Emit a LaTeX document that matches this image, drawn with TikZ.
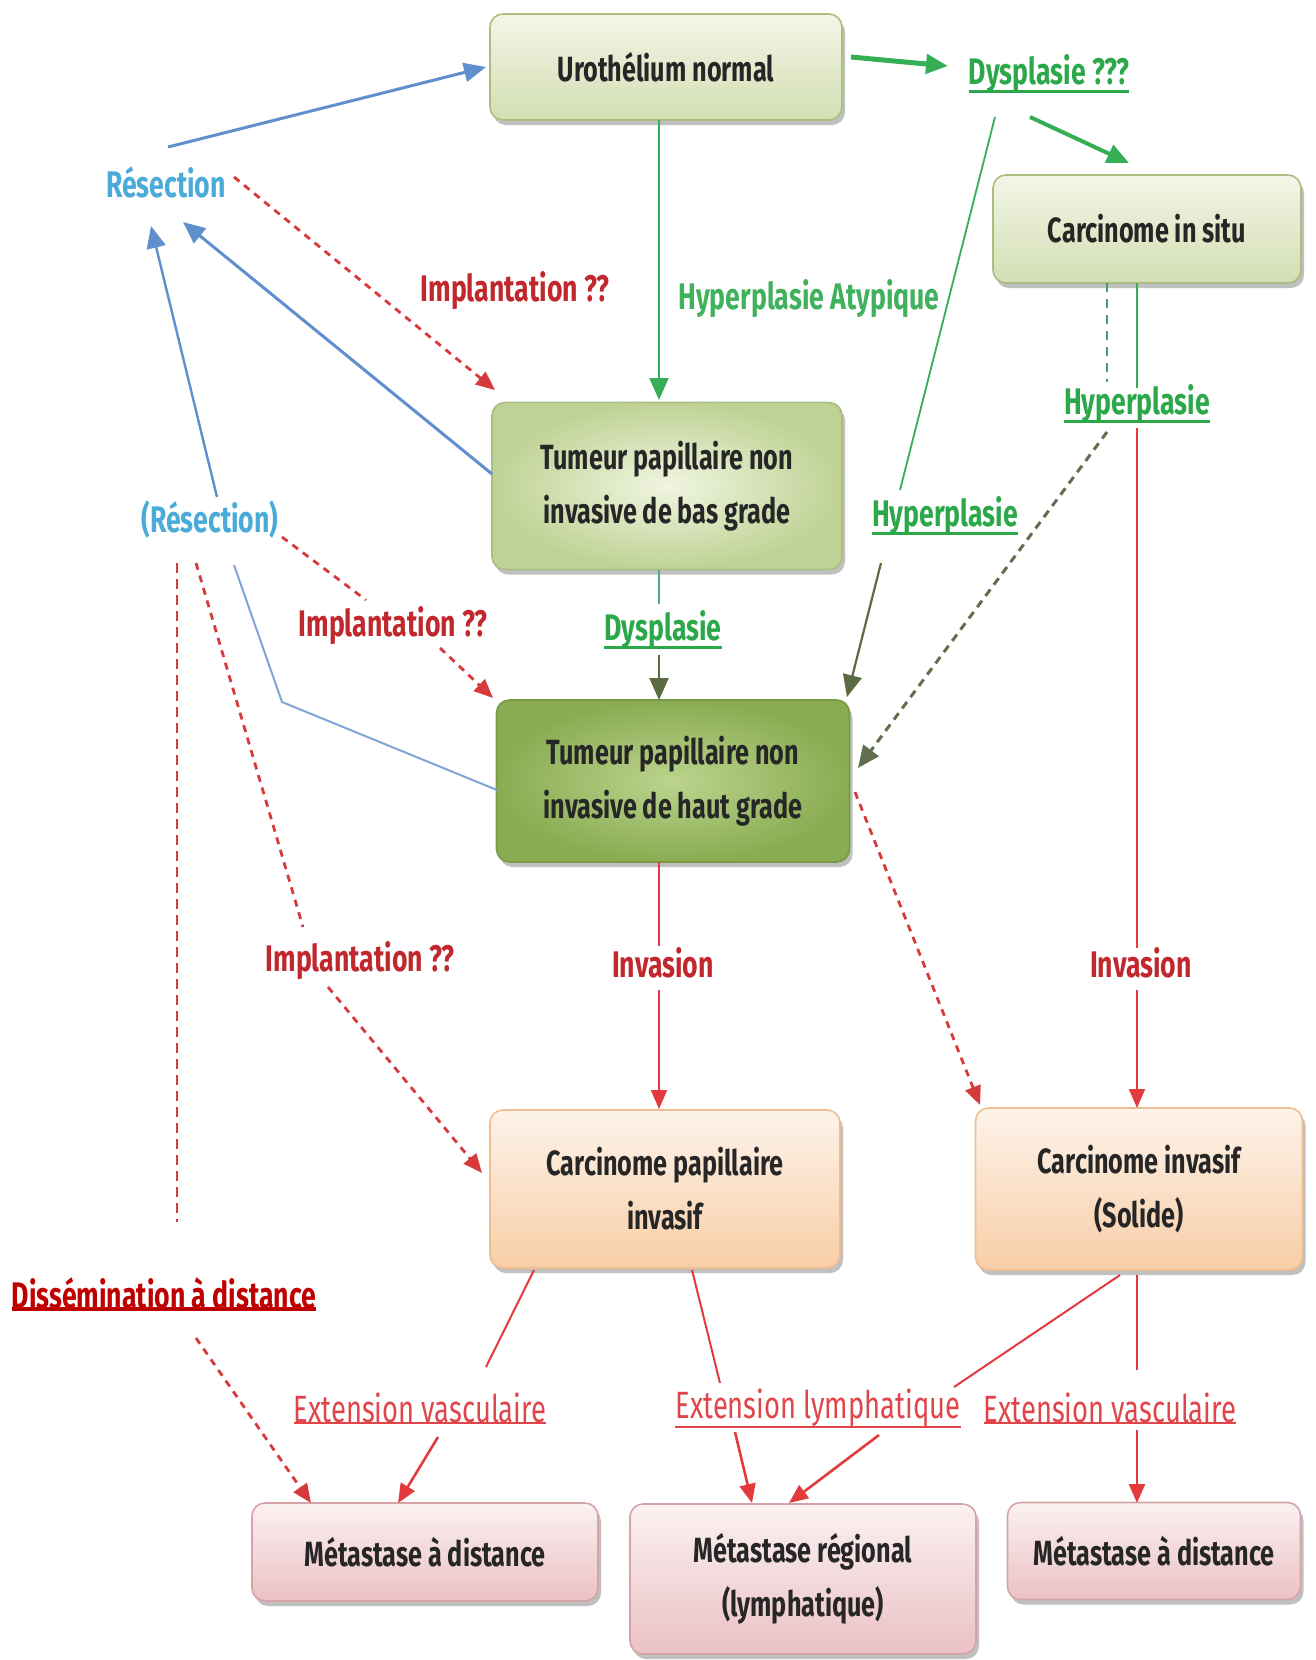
\documentclass[tikz,border=0pt]{standalone}
\usepackage{fontspec}
\setmainfont[FakeStretch=0.72]{Fira Sans}
\usetikzlibrary{calc,arrows.meta,shadows}
\definecolor{cGreenTxt}{HTML}{2BA84A}
\definecolor{cGreenArr}{HTML}{35AE55}
\definecolor{cOlive}{HTML}{5B6B42}
\definecolor{cTeal}{HTML}{4FA886}
\definecolor{cBlueTxt}{HTML}{4AAAD8}
\definecolor{cBlueArr}{HTML}{5F8FCD}
\definecolor{cRedTxt}{HTML}{C0282E}
\definecolor{cRedLight}{HTML}{E0454A}
\definecolor{cRedArr}{HTML}{E33A3E}
\definecolor{cRedDash}{HTML}{D63A3C}
\definecolor{gTop}{HTML}{F3F6E8}
\definecolor{gBot}{HTML}{D3DEB2}
\definecolor{gBrd}{HTML}{ABBE82}
\definecolor{bIn}{HTML}{F0F5E0}
\definecolor{bOut}{HTML}{BFD295}
\definecolor{hIn}{HTML}{BCD48E}
\definecolor{hOut}{HTML}{89AC52}
\definecolor{hBrd}{HTML}{779A44}
\definecolor{oTop}{HTML}{FDF3EA}
\definecolor{oBot}{HTML}{F8CEA7}
\definecolor{oBrd}{HTML}{EFBE90}
\definecolor{pTop}{HTML}{FBF1F2}
\definecolor{pBot}{HTML}{EBC1C4}
\definecolor{pBrd}{HTML}{D6A4A8}
\begin{document}
\begin{tikzpicture}[x=1pt,y=-1pt,
  every node/.style={font=\fontsize{35}{54}\selectfont\bfseries},
  box/.style={rounded corners=13pt, line width=1.6pt, align=center, inner sep=0pt,
    text=black!85, drop shadow={shadow xshift=3pt, shadow yshift=-5pt, opacity=0.45, fill=black!55}},
  gbox/.style={box, draw=gBrd, top color=gTop, bottom color=gBot},
  gbox2/.style={box, draw=gBrd, inner color=bIn, outer color=bOut},
  hbox/.style={box, draw=hBrd, inner color=hIn, outer color=hOut},
  obox/.style={box, draw=oBrd, top color=oTop, bottom color=oBot},
  pbox/.style={box, draw=pBrd, top color=pTop, bottom color=pBot},
  lab/.style={inner sep=0pt, font=\fontsize{37}{54}\selectfont\bfseries},
  elab/.style={inner sep=0pt, text=cRedLight, font=\fontsize{38}{54}\selectfont\mdseries},
  tip/.style={-{Triangle[length=22pt,width=19pt]}},
  stip/.style={-{Triangle[length=19pt,width=16pt]}},
  blue/.style={draw=cBlueArr, line width=3pt},
  bthin/.style={draw=cBlueArr!80, line width=2pt},
  rdash/.style={draw=cRedDash, line width=2.8pt, dash pattern=on 7pt off 6pt},
  rline/.style={draw=cRedArr, line width=2pt},
]
\useasboundingbox (0,0) rectangle (1315,1660);

% boxes
\node[gbox, minimum width=352pt, minimum height=106pt] (uro) at (666,67) {Urothélium normal};
\node[gbox, minimum width=308pt, minimum height=108pt] (cis) at (1147,229) {Carcinome in situ};
\node[gbox2, minimum width=350pt, minimum height=167pt] (bas) at (667,486) {Tumeur papillaire non\\invasive de bas grade};
\node[hbox, minimum width=353pt, minimum height=162pt] (haut) at (673,781) {Tumeur papillaire non\\invasive de haut grade};
\node[obox, minimum width=350pt, minimum height=158pt] (cpi) at (665,1189) {Carcinome papillaire\\invasif};
\node[obox, minimum width=327pt, minimum height=162pt] (ci) at (1139,1189) {Carcinome invasif\\(Solide)};
\node[pbox, minimum width=346pt, minimum height=98pt] (m1) at (425,1552) {Métastase à distance};
\node[pbox, minimum width=346pt, minimum height=150pt] (mr) at (803,1579) {Métastase régional\\(lymphatique)};
\node[pbox, minimum width=293pt, minimum height=97pt] (m2) at (1154,1551) {Métastase à distance};

% labels
\node[lab, text=cGreenTxt] (dys3) at (1049,74) {Dysplasie ???};
\node[lab, text=cBlueTxt] (res) at (166,182) {Résection};
\node[lab, text=cRedTxt] (imp1) at (515,291) {Implantation ??};
\node[lab, text=cGreenTxt!90!white] (hypA) at (809,299) {Hyperplasie Atypique};
\node[lab, text=cBlueTxt] (res2) at (210,520) {(Résection)};
\node[lab, text=cGreenTxt] (hypM) at (945,516) {Hyperplasie};
\node[lab, text=cGreenTxt] (hypR) at (1137,404) {Hyperplasie};
\node[lab, text=cGreenTxt] (dys) at (663,630) {Dysplasie};
\node[lab, text=cRedTxt] (imp2) at (393,626) {Implantation ??};
\node[lab, text=cRedTxt] (inv1) at (663,963) {Invasion};
\node[lab, text=cRedTxt] (inv2) at (1141,963) {Invasion};
\node[lab, text=cRedTxt] (imp3) at (360,961) {Implantation ??};
\node[lab, text=red!75!black] (diss) at (164,1293) {Dissémination à distance};
\node[elab] (ev1) at (420,1408) {Extension vasculaire};
\node[elab] (el) at (818,1408) {Extension lymphatique};
\node[elab] (ev2) at (1110,1408) {Extension vasculaire};

% underlines
\foreach \n in {dys3,hypM,hypR,dys}
  \draw[cGreenTxt, line width=3.5pt] ([yshift=2pt]\n.south west) -- ([yshift=2pt]\n.south east);
\draw[red!75!black, line width=3.5pt] ([yshift=0pt]diss.south west) -- ([yshift=0pt]diss.south east);
\foreach \n in {ev1,el,ev2}
  \draw[cRedLight, line width=2.2pt] ([yshift=0pt]\n.south west) -- ([yshift=0pt]\n.south east);

% green connectors
\draw[tip, draw=cGreenArr, fill=cGreenArr, line width=5pt] ($(uro.center)+(185,-10)$) -- ($(dys3.center)+(-101,-8)$);
\draw[tip, draw=cGreenArr, fill=cGreenArr, line width=4pt] ($(dys3.center)+(-19,43)$) -- ($(cis.center)+(-18,-66)$);
\draw[draw=cGreenArr, line width=1.8pt] ($(dys3.center)+(-54,43)$) -- ($(hypM.center)+(-45,-26)$);
\draw[tip, draw=cOlive, line width=2.2pt] ($(hypM.center)+(-64,47)$) -- ($(haut.center)+(174,-84)$);
\draw[tip, draw=cGreenArr, line width=2pt] ($(uro.center)+(-7,53)$) -- ($(bas.center)+(-8,-86)$);
\draw[draw=cTeal, line width=2pt] ($(bas.center)+(-8,84)$) -- ($(dys.center)+(-4,-26)$);
\draw[tip, draw=cOlive, line width=2.2pt] ($(dys.center)+(-4,25)$) -- ($(haut.center)+(-14,-81)$);
\draw[draw=cGreenArr, line width=2pt] ($(cis.center)+(-10,54)$) -- ($(hypR.center)+(0,-16)$);
\draw[draw=cGreenArr!60!gray, line width=2pt, dash pattern=on 9pt off 7pt] ($(cis.center)+(-40,54)$) -- ($(hypR.center)+(-30,-22)$);
\draw[tip, draw=cOlive!80!gray, line width=3pt, dash pattern=on 8pt off 6pt] ($(hypR.center)+(-30,28)$) -- ($(haut.center)+(185,-13)$);

% red connectors
\draw[rline] ($(hypR.center)+(0,24)$) -- ($(inv2.center)+(-4,-15)$);
\draw[rline, stip] ($(inv2.center)+(-4,27)$) -- ($(ci.center)+(-2,-81)$);
\draw[rline] ($(haut.center)+(-14,81)$) -- ($(inv1.center)+(-4,-17)$);
\draw[rline, stip] ($(inv1.center)+(-4,27)$) -- ($(cpi.center)+(-6,-80)$);
\draw[rdash, stip] ($(haut.center)+(182,11)$) -- ($(ci.center)+(-159,-84)$);

% blue connectors
\draw[blue, tip] ($(res.center)+(2,-35)$) -- ($(uro.center)+(-180,0)$);
\draw[blue, tip] ($(bas.center)+(-175,-12)$) -- ($(res.center)+(17,40)$);
\coordinate (bend1) at (282,702);
\draw[bthin] ($(haut.center)+(-176,9)$) -- (bend1) -- ($(res2.center)+(24,45)$);
\draw[blue, tip, line width=2.4pt] ($(res2.center)+(7,-23)$) -- ($(res.center)+(-15,44)$);

% red dashed implantation
\draw[rdash, stip] ($(res.center)+(68,-5)$) -- ($(bas.center)+(-172,-96)$);
\draw[rdash] ($(res2.center)+(72,17)$) -- ($(imp2.center)+(-27,-26)$);
\draw[rdash, stip] ($(imp2.center)+(47,22)$) -- ($(haut.center)+(-180,-83)$);
\draw[rdash] ($(res2.center)+(-14,43)$) -- ($(imp3.center)+(-57,-34)$);
\draw[rdash, stip] ($(imp3.center)+(-32,26)$) -- ($(cpi.center)+(-183,-16)$);
\draw[rdash, dash pattern=on 10pt off 6pt] ($(res2.center)+(-33,43)$) -- ($(diss.center)+(13,-71)$);
\draw[rdash, stip] ($(diss.center)+(32,45)$) -- ($(m1.center)+(-114,-49)$);

% metastasis connectors
\draw[rline] ($(cpi.center)+(-131,81)$) -- ($(ev1.center)+(66,-41)$);
\draw[rline, stip, line width=2.6pt] ($(ev1.center)+(18,29)$) -- ($(m1.center)+(-27,-49)$);
\draw[rline] ($(cpi.center)+(27,81)$) -- ($(el.center)+(-98,-25)$);
\draw[rline, stip, line width=2.6pt] ($(el.center)+(-83,24)$) -- ($(mr.center)+(-51,-76)$);
\draw[rline] ($(ci.center)+(-19,86)$) -- ($(el.center)+(136,-21)$);
\draw[rline, stip, line width=2.6pt] ($(el.center)+(61,27)$) -- ($(mr.center)+(-14,-76)$);
\draw[rline] ($(ci.center)+(-2,86)$) -- ($(ev2.center)+(27,-38)$);
\draw[rline, stip, line width=2.6pt] ($(ev2.center)+(27,22)$) -- ($(m2.center)+(-17,-48)$);
\end{tikzpicture}
\end{document}
